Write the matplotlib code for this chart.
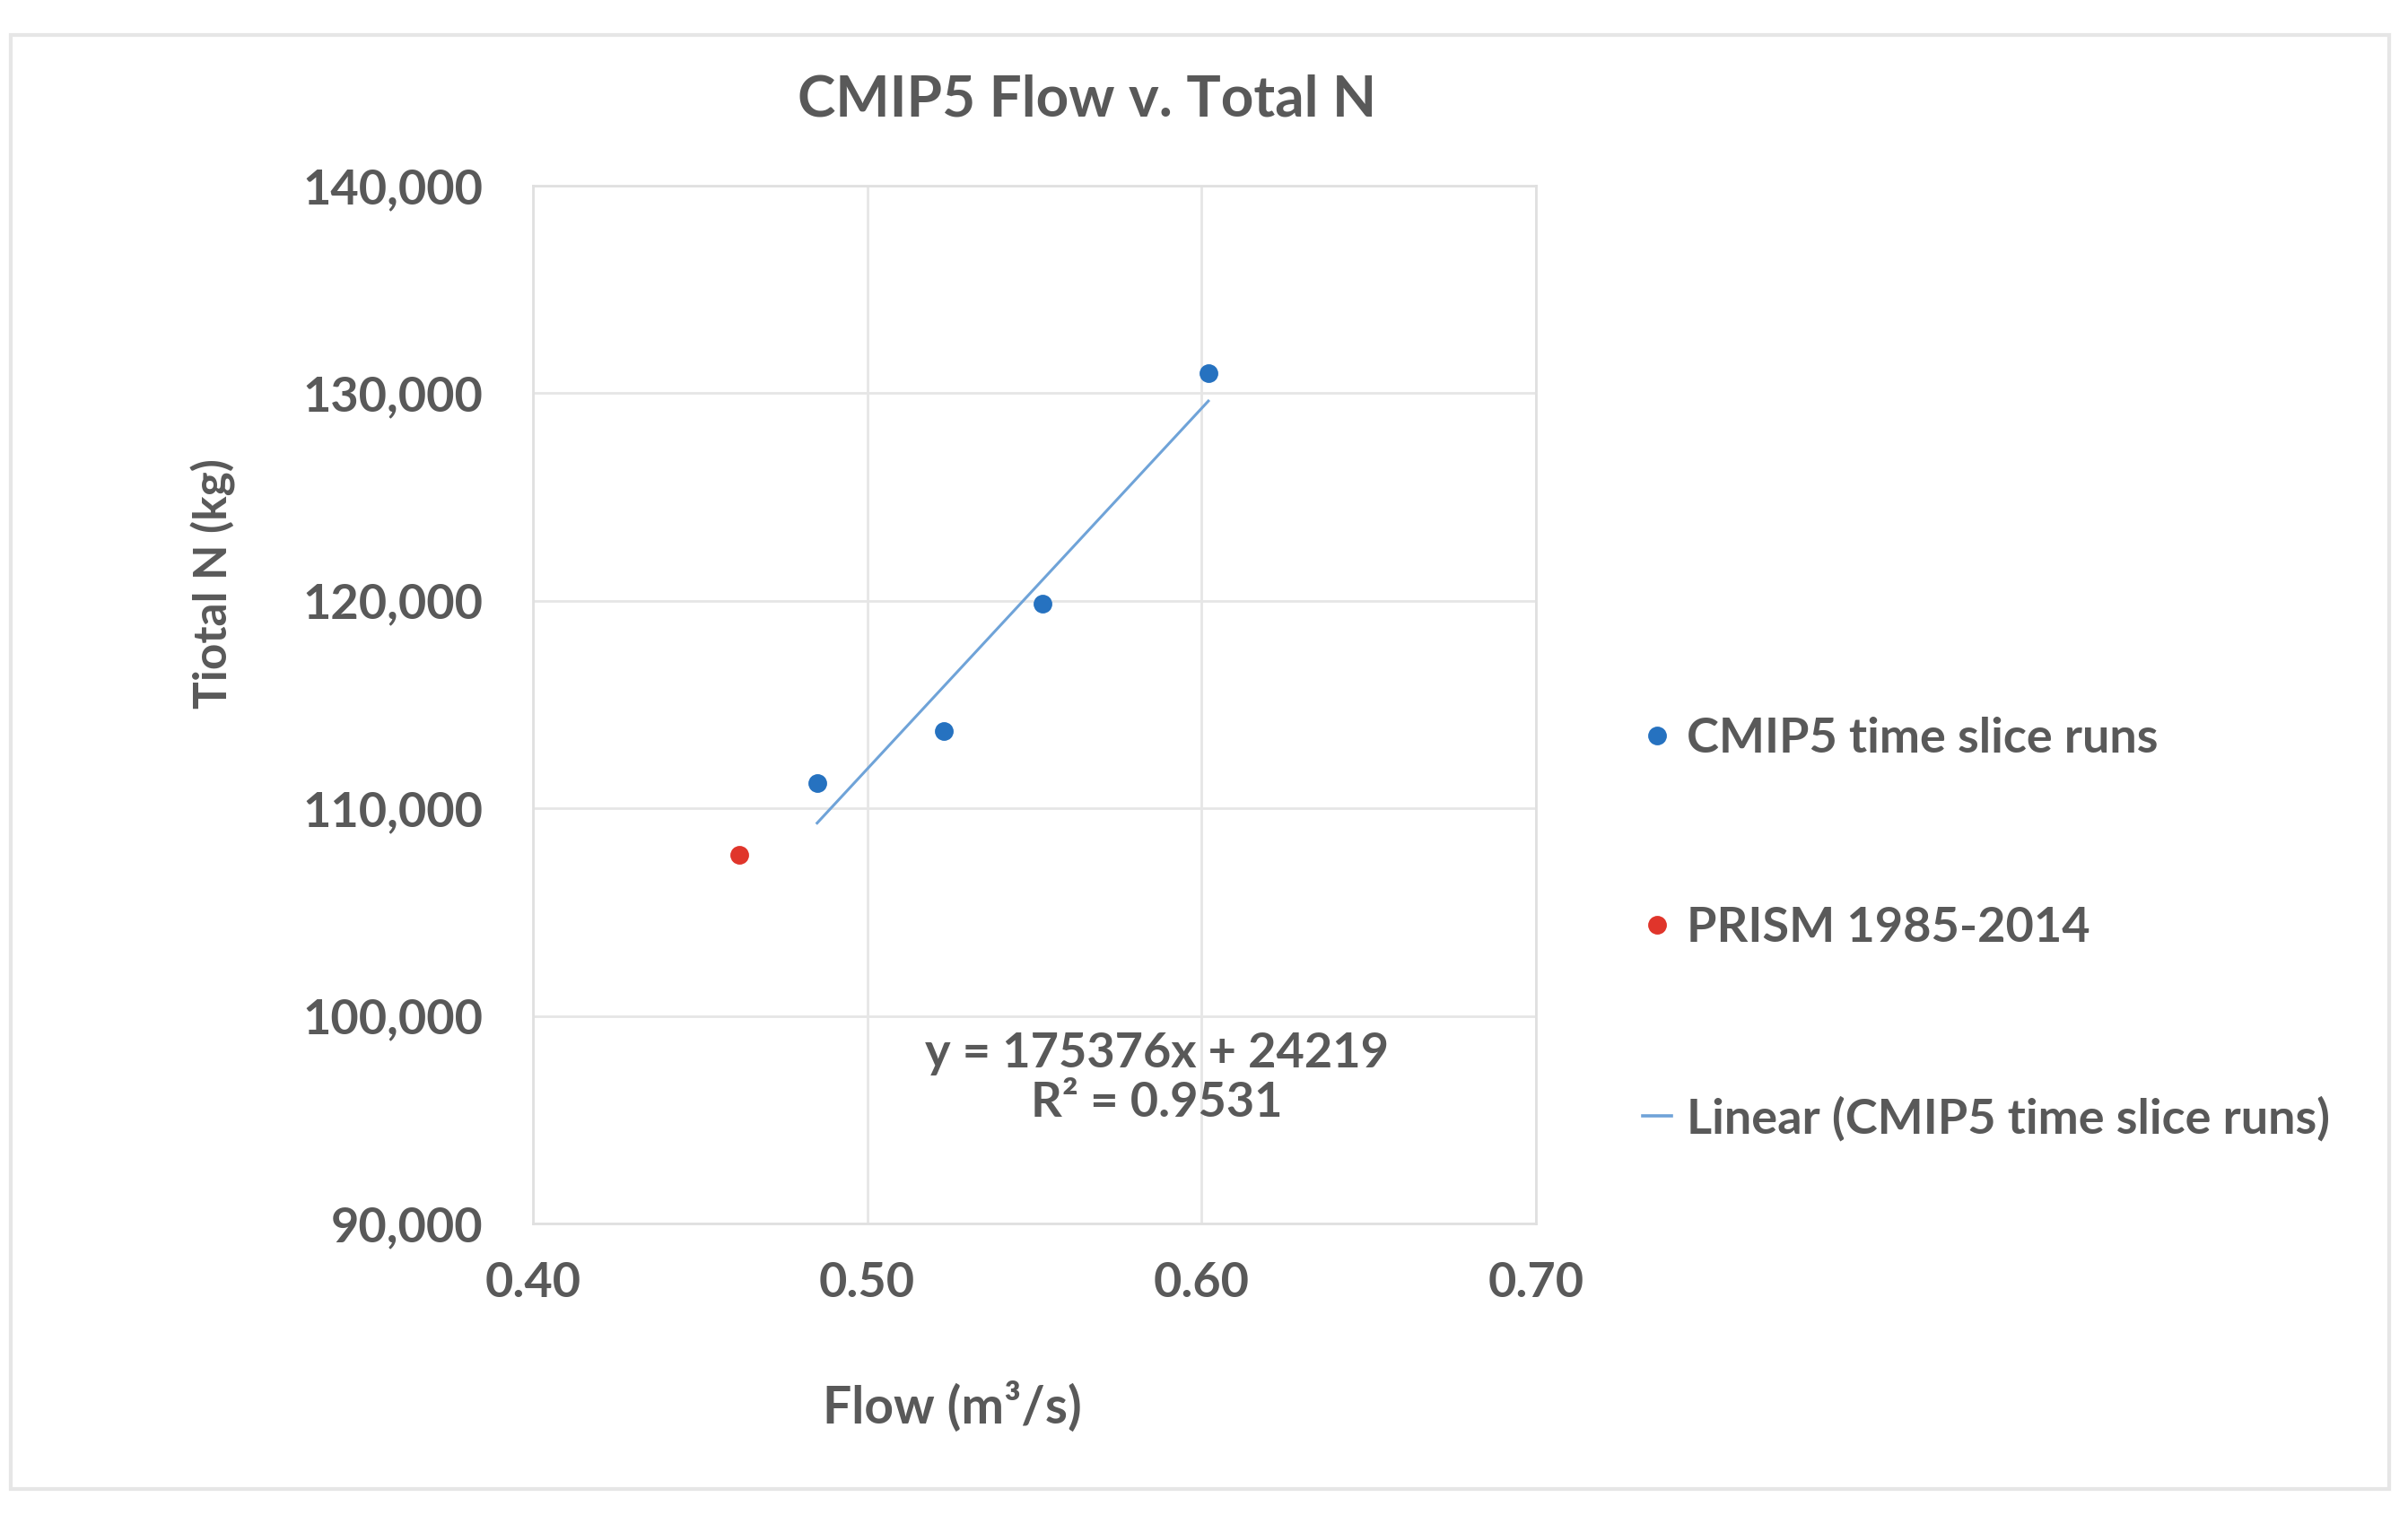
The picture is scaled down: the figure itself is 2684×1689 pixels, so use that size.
import matplotlib.pyplot as plt
import numpy as np
from matplotlib.lines import Line2D
from matplotlib.patches import Rectangle

# values
cmip_flow = [0.485, 0.523, 0.5525, 0.602]
cmip_n = [111230, 113740, 119880, 130980]
prism_flow = [0.4616]
prism_n = [107750]
x_ticks = [0.40, 0.50, 0.60, 0.70]
y_ticks = [90000, 100000, 110000, 120000, 130000, 140000]

blue = "#2672c0"
red = "#e0352b"
trend_col = "#6fa3d8"
txt = "#595959"

plt.rcParams['font.family'] = ['Lato', 'DejaVu Sans']

fig = plt.figure(figsize=(13.42, 8.445), dpi=200)
ax = fig.add_axes([0.2213, 0.1924, 0.4166, 0.6851])

ax.plot(cmip_flow, cmip_n, 'o', color=blue, markersize=6.5, zorder=3)
ax.plot(prism_flow, prism_n, 'o', color=red, markersize=6.5, zorder=3)

# linear trend fitted to the CMIP5 points
k, b = np.polyfit(cmip_flow, cmip_n, 1)
xs = np.array([min(cmip_flow), max(cmip_flow)])
ax.plot(xs, k * xs + b, color=trend_col, lw=1.1, zorder=2)

ax.text(0.5865, 97000, "y = 175376x + 24219\nR² = 0.9531", ha="center", va="center",
        fontsize=19.5, fontweight="bold", color=txt, linespacing=1.15)

ax.set_xlim(0.40, 0.70)
ax.set_ylim(90000, 140000)
ax.set_xticks(x_ticks)
ax.set_xticklabels([f"{v:.2f}" for v in x_ticks])
ax.set_yticks(y_ticks)
ax.set_yticklabels([f"{v:,}" for v in y_ticks])
ax.grid(True, color="#e6e6e6", lw=1.0)
ax.set_axisbelow(True)
for s in ax.spines.values():
    s.set_color("#e0e0e0")
    s.set_linewidth(1.0)
ax.tick_params(length=0, labelsize=19.5, labelcolor=txt)
ax.tick_params(axis="y", pad=20)
ax.tick_params(axis="x", pad=15)
for lab in ax.get_xticklabels() + ax.get_yticklabels():
    lab.set_fontweight("bold")

fig.text(0.4515, 0.934, "CMIP5 Flow v. Total N", ha="center", va="center",
         fontsize=23, fontweight="bold", color=txt)
fig.text(0.3953, 0.0716, "Flow (m³/s)", ha="center", va="center",
         fontsize=20.5, fontweight="bold", color=txt)
fig.text(0.0885, 0.615, "Tiotal N (kg)", ha="center", va="center", rotation=90,
         fontsize=18.5, fontweight="bold", color=txt)

handles = [
    Line2D([], [], marker='o', ls='none', color=blue, markersize=6.5),
    Line2D([], [], marker='o', ls='none', color=red, markersize=6.5),
    Line2D([], [], color=trend_col, lw=1.3),
]
labels = ["CMIP5 time slice runs", "PRISM 1985-2014", "Linear (CMIP5 time slice runs)"]
leg = fig.legend(handles, labels, loc="center left", bbox_to_anchor=(0.664, 0.387),
                 frameon=False, fontsize=19.5, handlelength=0.6, handletextpad=0.3,
                 labelspacing=3.0)
for t in leg.get_texts():
    t.set_color(txt)
    t.set_fontweight("bold")

fig.patches.append(Rectangle((0.0045, 0.017), 0.9875, 0.96, transform=fig.transFigure,
                             fill=False, edgecolor="#e6e6e6", lw=1.5))

fig.savefig("out.png", dpi=200, facecolor="white")
